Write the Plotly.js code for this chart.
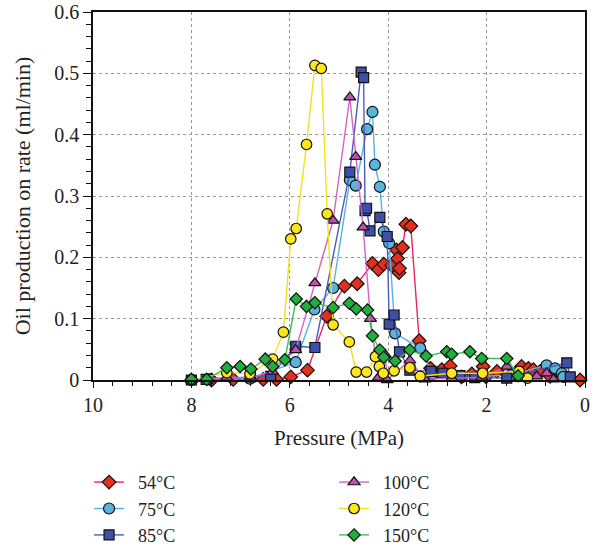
<!DOCTYPE html>
<html>
<head>
<meta charset="utf-8">
<script src="https://cdn.plot.ly/plotly-3.0.1.min.js"></script>
<style>html,body{margin:0;padding:0;background:#fff}#chart{width:596px;height:546px}</style>
</head>
<body>
<div id="chart"></div>
<script>
// Pressure (MPa) and oil production rate (ml/min) per temperature
const p54 = [7.59,7.15,6.54,6.27,5.98,5.64,5.25,4.89,4.63,4.32,4.20,4.09,3.93,3.83,3.81,3.78,3.77,3.71,3.64,3.54,3.37,3.14,2.91,2.74,2.51,2.30,2.07,2.01,1.79,1.29,1.15,1.05,0.91,0.71,0.10];
const q54 = [0.000,0.001,0.001,0.001,0.005,0.016,0.104,0.153,0.157,0.190,0.180,0.189,0.187,0.212,0.198,0.175,0.182,0.216,0.254,0.251,0.064,0.019,0.017,0.023,0.005,0.010,0.022,0.005,0.014,0.022,0.019,0.017,0.014,0.006,0.000];

const p75 = [8.00,7.65,6.81,5.88,5.50,5.12,4.78,4.66,4.43,4.32,4.27,4.17,4.09,3.98,3.86,3.35,3.10,2.50,1.50,0.78,0.61,0.47,0.44];
const q75 = [0.000,0.001,0.002,0.029,0.115,0.150,0.326,0.317,0.409,0.437,0.351,0.315,0.242,0.223,0.076,0.052,0.010,0.005,0.008,0.024,0.019,0.011,0.005];

const p85 = [8.00,7.70,6.80,6.39,5.88,5.49,4.78,4.55,4.50,4.47,4.44,4.37,4.17,4.02,3.98,3.88,3.77,3.56,3.13,2.89,2.54,2.24,1.59,0.37,0.30];
const q85 = [0.000,0.001,0.005,0.006,0.055,0.053,0.339,0.502,0.493,0.276,0.280,0.243,0.265,0.234,0.091,0.106,0.046,0.016,0.014,0.011,0.007,0.004,0.003,0.028,0.005];

const p100 = [8.00,7.28,6.80,6.35,5.88,5.49,5.12,4.78,4.66,4.51,4.36,4.20,4.06,4.02,3.56,3.25,2.71,2.10,1.59,0.98,0.78,0.64];
const q100 = [0.000,0.004,0.004,0.014,0.049,0.158,0.260,0.461,0.364,0.249,0.100,0.004,0.041,0.000,0.032,0.001,0.003,0.004,0.022,0.006,0.011,0.001];

const p120 = [8.00,7.28,6.81,6.35,6.13,5.98,5.87,5.66,5.49,5.36,5.24,5.12,4.79,4.65,4.44,4.26,4.18,4.10,3.88,3.56,3.35,2.71,2.08,1.34,1.17];
const q120 = [0.000,0.012,0.010,0.034,0.078,0.230,0.247,0.384,0.513,0.508,0.271,0.090,0.062,0.013,0.013,0.038,0.022,0.011,0.015,0.020,0.006,0.011,0.011,0.014,0.003];

const p150 = [8.00,7.69,7.28,7.01,6.79,6.50,6.35,6.10,5.87,5.66,5.49,5.12,4.79,4.65,4.42,4.32,4.17,4.09,3.86,3.56,3.23,2.81,2.71,2.34,2.10,1.59,1.36];
const q150 = [0.001,0.001,0.020,0.022,0.018,0.034,0.022,0.033,0.132,0.120,0.126,0.118,0.125,0.116,0.114,0.072,0.049,0.037,0.031,0.049,0.039,0.046,0.042,0.046,0.035,0.035,0.007];

const names = ['54°C','75°C','85°C','100°C','120°C','150°C'];

const FONT = 'Liberation Serif';
const PAD = '\u2002';

function tr(x, y, name, lineColor, fill, symbol, size, rank) {
  return {
    x: x, y: y, name: PAD + name, type: 'scatter', mode: 'lines+markers',
    cliponaxis: false, legendrank: rank,
    line: {color: lineColor, width: 1.4},
    marker: {symbol: symbol, size: size, color: fill, line: {color: '#111', width: 1.2}}
  };
}

const data = [
  tr(p54, q54, names[0], '#e8246a', '#e3301c', 'diamond', 10.5, 1),
  tr(p75, q75, names[1], '#56b2e2', '#5ab4de', 'circle', 11, 3),
  tr(p85, q85, names[2], '#4c5cb8', '#3f4ea6', 'square', 10, 5),
  tr(p100, q100, names[3], '#d264c4', '#c24fb2', 'triangle-up', 10.5, 2),
  tr(p120, q120, names[4], '#f2e21a', '#fde61c', 'circle', 10.5, 4),
  tr(p150, q150, names[5], '#3cc053', '#1faf3c', 'diamond', 9.5, 6)
];

const layout = {
  width: 596, height: 546,
  margin: {l: 93, r: 11, t: 12, b: 166, autoexpand: false},
  paper_bgcolor: '#fff', plot_bgcolor: '#fff',
  font: {family: FONT, size: 19, color: '#222'},
  showlegend: true,
  legend: {
    orientation: 'h', x: -0.008, xanchor: 'left', y: -0.228, yanchor: 'top',
    entrywidth: 200, entrywidthmode: 'pixels',
    font: {family: FONT, size: 18, color: '#222'},
    traceorder: 'normal', bgcolor: 'rgba(0,0,0,0)'
  },
  xaxis: {
    range: [10, 0], dtick: 2, tick0: 0,
    showline: true, linecolor: '#111', linewidth: 1.5, mirror: true,
    ticks: 'outside', ticklen: 6, tickcolor: '#111', tickwidth: 1,
    minor: {dtick: 0.4, ticklen: 4, tickcolor: '#111', ticks: 'outside', showgrid: false},
    showgrid: true, gridcolor: '#999', griddash: 'dot', gridwidth: 1,
    zeroline: false,
    tickfont: {family: FONT, size: 20, color: '#222'},
    title: {text: 'Pressure (MPa)', font: {family: FONT, size: 21, color: '#222'}, standoff: 16}
  },
  yaxis: {
    range: [0, 0.6], dtick: 0.1, tick0: 0,
    showline: true, linecolor: '#111', linewidth: 1.5, mirror: true,
    ticks: 'outside', ticklen: 8, tickcolor: '#111', tickwidth: 1,
    minor: {dtick: 0.02, ticklen: 5, tickcolor: '#111', ticks: 'outside', showgrid: false},
    showgrid: true, gridcolor: '#999', griddash: 'dot', gridwidth: 1,
    zeroline: false,
    tickfont: {family: FONT, size: 20, color: '#222'},
    title: {text: 'Oil production on rate (ml/min)', font: {family: FONT, size: 22, color: '#222'}, standoff: 18}
  }
};

Plotly.newPlot('chart', data, layout, {displayModeBar: false, responsive: false});
</script>
</body>
</html>
